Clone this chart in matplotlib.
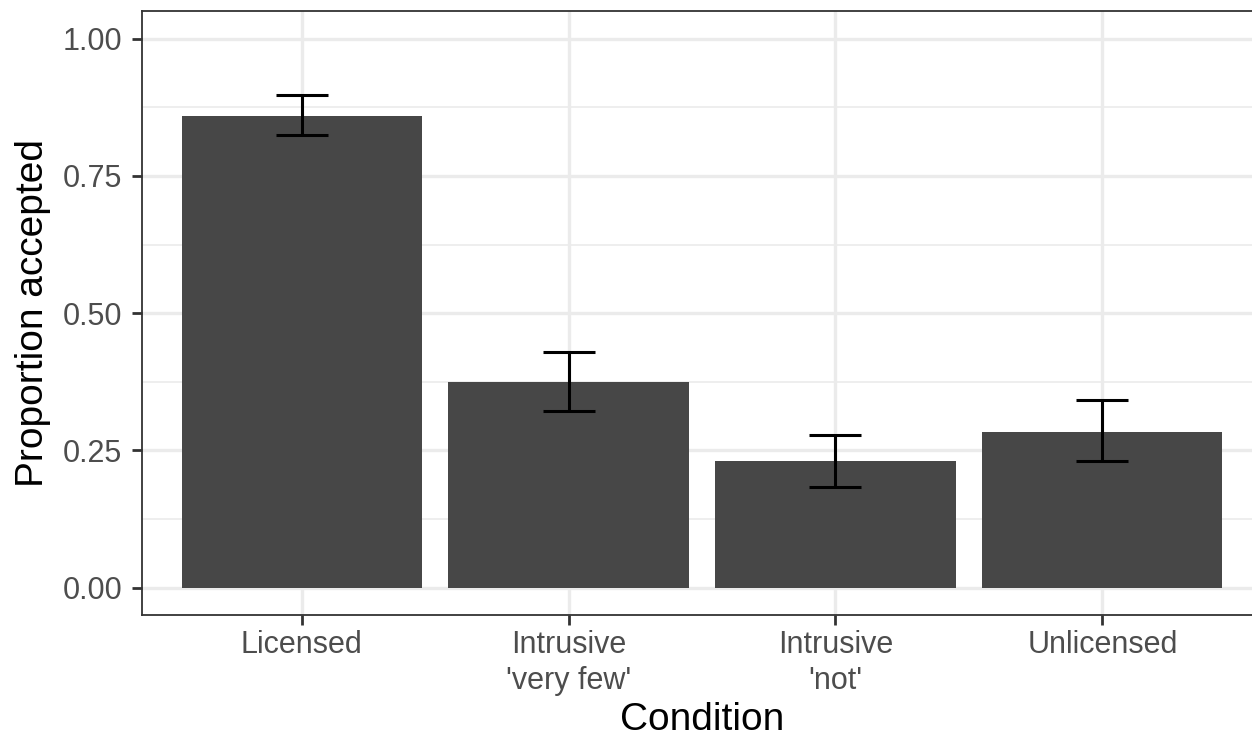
import numpy as np
import matplotlib
matplotlib.use("Agg")
import matplotlib.pyplot as plt

conditions = ["Licensed", "Intrusive\n'very few'", "Intrusive\n'not'", "Unlicensed"]
prop = [0.860, 0.375, 0.231, 0.284]
ci_low = [0.824, 0.321, 0.184, 0.230]
ci_high = [0.897, 0.430, 0.278, 0.341]

plt.rcParams['font.family'] = ['Liberation Sans', 'DejaVu Sans']

fig = plt.figure(figsize=(12.52, 7.39), dpi=100)
W, H = 1252.0, 739.0
left, right, top, bottom = 141.5, 1262.5, 11.3, 615.0
ax = fig.add_axes([left / W, 1 - bottom / H, (right - left) / W, (bottom - top) / H])

x = np.arange(1, len(conditions) + 1)
p = np.array(prop)
err = [p - np.array(ci_low), np.array(ci_high) - p]

ax.bar(x, p, width=0.9, color='#474747', zorder=2)
ax.errorbar(x, p, yerr=err, fmt='none', ecolor='black', elinewidth=2.2,
            capsize=19, capthick=2.2, zorder=3)

ax.set_xlim(0.4, 4.6)
ax.set_ylim(-0.05, 1.05)
ax.set_yticks([0, 0.25, 0.5, 0.75, 1.0])
ax.set_yticklabels(["0.00", "0.25", "0.50", "0.75", "1.00"])
ax.set_yticks([0.125, 0.375, 0.625, 0.875], minor=True)
ax.set_xticks(x)
ax.set_xticklabels(conditions)

ax.grid(which='major', color='#EBEBEB', linewidth=2.4, zorder=0)
ax.grid(which='minor', axis='y', color='#EBEBEB', linewidth=1.2, zorder=0)
ax.set_axisbelow(True)

for s in ax.spines.values():
    s.set_color('#333333')
    s.set_linewidth(1.3)
ax.spines['right'].set_visible(False)

ax.tick_params(axis='both', which='major', length=7.5, width=2, color='#333333',
               labelsize=22, labelcolor='#4D4D4D')
ax.tick_params(axis='y', which='minor', length=0)
ax.tick_params(axis='x', pad=3)
ax.tick_params(axis='y', pad=6.5)
for lab in ax.get_xticklabels():
    lab.set_linespacing(1.3)

ax.set_xlabel("Condition", fontsize=28, color='black', labelpad=4)
ax.set_ylabel("Proportion accepted", fontsize=28, color='black', labelpad=8)

fig.savefig("out.png", dpi=100)
